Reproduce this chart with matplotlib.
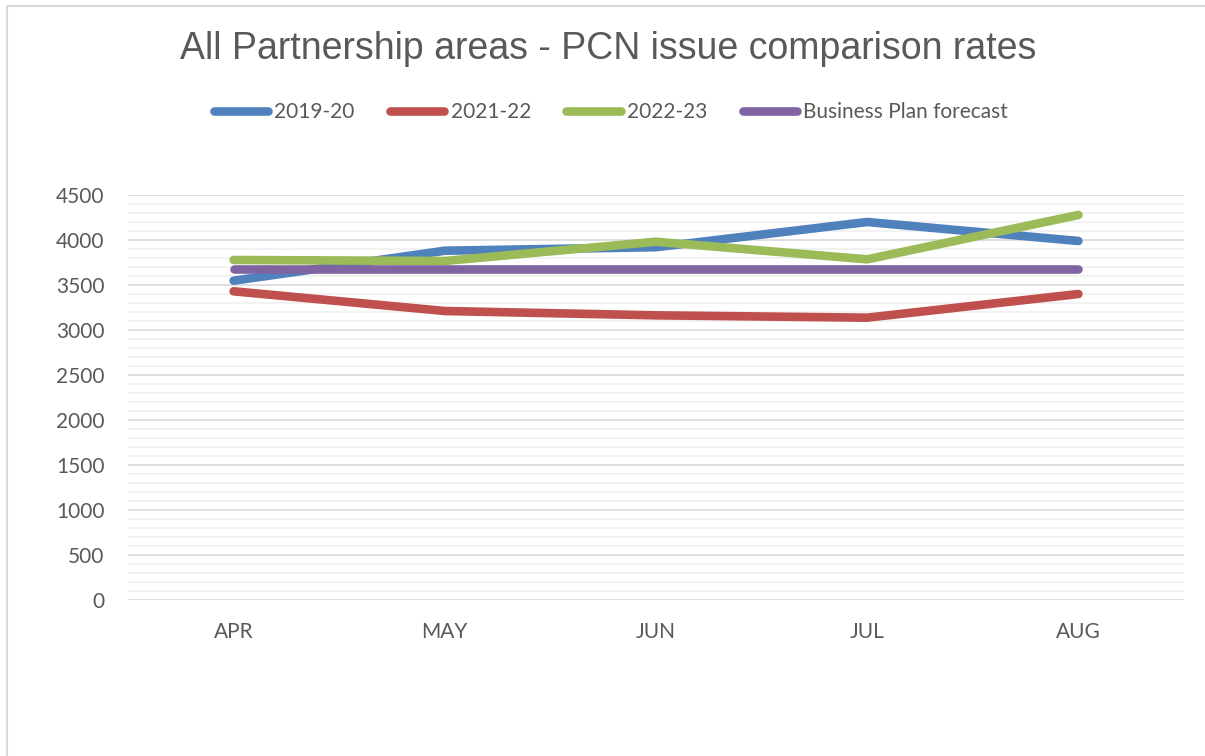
import matplotlib
matplotlib.use("Agg")
import matplotlib.pyplot as plt
from matplotlib.patches import Rectangle
from matplotlib.ticker import MultipleLocator

months = ["APR", "MAY", "JUN", "JUL", "AUG"]
series_names = ["2019-20", "2021-22", "2022-23", "Business Plan forecast"]
values_2019_20 = [3548, 3881, 3920, 4200, 3989]
values_2021_22 = [3430, 3211, 3163, 3137, 3400]
values_2022_23 = [3778, 3767, 3981, 3785, 4278]
values_forecast = [3675, 3675, 3675, 3675, 3675]

colors = ["#4F81BD", "#C0504D", "#9BBB59", "#8064A2"]
text_color = "#595959"
label_font = "Lato"

fig = plt.figure(figsize=(12.05, 7.56), dpi=100)
fig.patch.set_facecolor("white")

# chart area border
fig.patches.append(Rectangle((7 / 1205, -0.1), 1.2, 1.1 - 6 / 756,
                             transform=fig.transFigure, fill=False,
                             edgecolor="#D9D9D9", linewidth=1.5))

ax = fig.add_axes([128 / 1205, 1 - 600 / 756, (1184 - 128) / 1205, (600 - 195) / 756])
x = list(range(len(months)))
for vals, name, c in zip([values_2019_20, values_2021_22, values_2022_23, values_forecast],
                         series_names, colors):
    ax.plot(x, vals, color=c, linewidth=6.2, solid_capstyle="round",
            solid_joinstyle="round", label=name, zorder=3)

ax.set_xlim(-0.5, len(months) - 0.5)
ax.set_ylim(0, 4500)
ax.yaxis.set_major_locator(MultipleLocator(500))
ax.yaxis.set_minor_locator(MultipleLocator(100))
ax.grid(axis="y", which="major", color="#D9D9D9", linewidth=1.2, zorder=1)
ax.grid(axis="y", which="minor", color="#F0F0F0", linewidth=1.2, zorder=0)
ax.set_xticks(x)
ax.set_xticklabels(months)
for s in ax.spines.values():
    s.set_visible(False)
ax.tick_params(axis="both", which="both", length=0, labelsize=15,
               labelcolor=text_color)
ax.tick_params(axis="y", pad=17)
ax.tick_params(axis="x", pad=16)
for lab in ax.get_xticklabels() + ax.get_yticklabels():
    lab.set_fontfamily(label_font)

fig.text(0.505, 1 - 49 / 756, "All Partnership areas - PCN issue comparison rates",
         ha="center", va="center", fontsize=27, color=text_color,
         family="Liberation Sans")

leg = fig.legend(loc="center", bbox_to_anchor=(611 / 1205, 1 - 112 / 756), ncol=4,
                 frameon=False, handlelength=2.6, handletextpad=0.3,
                 columnspacing=1.7, prop={"family": label_font, "size": 15})
for t in leg.get_texts():
    t.set_color(text_color)
for h in leg.get_lines():
    h.set_solid_capstyle("round")

fig.savefig("out.png", dpi=100)
